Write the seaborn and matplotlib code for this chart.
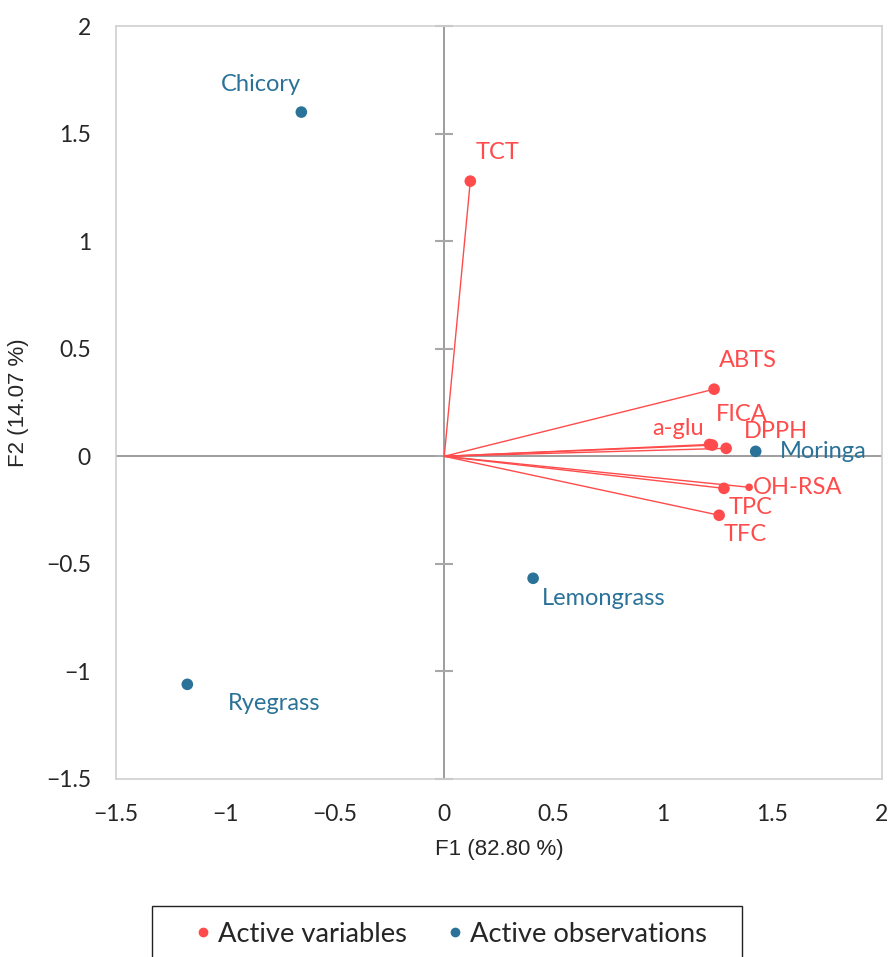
import pandas as pd
import matplotlib.pyplot as plt
import seaborn as sns
from matplotlib.patches import Rectangle

variables = ["TCT", "ABTS", "a-glu", "FICA", "DPPH", "OH-RSA", "TPC", "TFC"]
var_f1 = [0.119, 1.233, 1.212, 1.225, 1.288, 1.393, 1.278, 1.256]
var_f2 = [1.279, 0.312, 0.055, 0.052, 0.037, -0.144, -0.149, -0.274]

observaciones = ["Chicory", "Moringa", "Lemongrass", "Ryegrass"]
obs_f1 = [-0.653, 1.423, 0.406, -1.174]
obs_f2 = [1.600, 0.023, -0.567, -1.060]

x_ticks = [-1.5, -1, -0.5, 0, 0.5, 1, 1.5, 2]
y_ticks = [-1.5, -1, -0.5, 0, 0.5, 1, 1.5, 2]

rojo = "#FF4B4B"
azul = "#2B7299"

df = pd.DataFrame({
    "nombre": variables + observaciones,
    "F1": var_f1 + obs_f1,
    "F2": var_f2 + obs_f2,
    "tipo": ["Active variables"] * len(variables) + ["Active observations"] * len(observaciones),
})
# OH-RSA aparece con un marcador mas pequeño
df["tam"] = ["chico" if n == "OH-RSA" else "normal" for n in df["nombre"]]

sns.set_style("white")
plt.rcParams["font.family"] = ["Lato", "DejaVu Sans"]

fig = plt.figure(figsize=(8.88, 9.57), dpi=100)
ax = fig.add_axes([0.1306, 0.186, 0.8626, 0.7868])

# Ejes centrales
ax.axhline(0, color="#8c8c8c", lw=1.2, zorder=1)
ax.axvline(0, color="#8c8c8c", lw=1.2, zorder=1)
ax.scatter([0] * len(y_ticks), y_ticks, marker="_", s=150, color="#a8a8a8", lw=1.5, zorder=1, clip_on=False)

# Vectores de las variables
for x, y in zip(var_f1, var_f2):
    ax.plot([0, x], [0, y], color=rojo, lw=1, zorder=2)

sns.scatterplot(data=df, x="F1", y="F2", hue="tipo", palette={"Active variables": rojo, "Active observations": azul},
                size="tam", sizes={"normal": 70, "chico": 30}, edgecolor="none", ax=ax, legend=False, zorder=3)

# Etiquetas (desplazamiento en pixeles)
offsets = {
    "TCT": (27, 29), "ABTS": (34, 29), "a-glu": (-31, 16), "FICA": (29, 31), "DPPH": (50, 17),
    "OH-RSA": (49, 0), "TPC": (27, -19), "TFC": (26, -19),
    "Chicory": (-40, 28), "Moringa": (68, 0), "Lemongrass": (71, -20), "Ryegrass": (87, -19),
}
for _, fila in df.iterrows():
    dx, dy = offsets[fila["nombre"]]
    col = rojo if fila["tipo"] == "Active variables" else azul
    ax.annotate(fila["nombre"], (fila["F1"], fila["F2"]), xytext=(dx * 0.72, dy * 0.72), textcoords="offset points",
                ha="center", va="center", fontsize=17, color=col)

ax.set_xlim(-1.5, 2)
ax.set_ylim(-1.5, 2)
ax.set_xticks(x_ticks)
ax.set_yticks(y_ticks)
ax.set_xticklabels([f"{v:g}".replace("-", "\u2212") for v in x_ticks], fontsize=16.5)
ax.set_yticklabels([f"{v:g}".replace("-", "\u2212") for v in y_ticks], fontsize=16.5)
ax.tick_params(axis="x", length=0, pad=18)
ax.tick_params(axis="y", length=0, pad=18)
for s in ax.spines.values():
    s.set_color("#d0d0d0")
    s.set_linewidth(1.2)

ax.set_xlabel("F1 (82.80 %)", fontsize=16, family="Liberation Sans", labelpad=10)
ax.set_ylabel("F2 (14.07 %)", fontsize=16, family="Liberation Sans", labelpad=12)

# Leyenda: marco dibujado aparte (queda cortado por el borde inferior)
fig.patches.append(Rectangle((152 / 888, -0.05), 590 / 888, 51 / 957 + 0.05, transform=fig.transFigure,
                             fill=False, edgecolor="#222222", lw=1.0))
handles = [
    plt.Line2D([], [], marker="o", ls="", color=rojo, markersize=6, label="Active variables"),
    plt.Line2D([], [], marker="o", ls="", color=azul, markersize=6, label="Active observations"),
]
fig.legend(handles=handles, loc="upper left", bbox_to_anchor=(192 / 888, 1 - 922 / 957), ncol=2, fontsize=19.7,
           frameon=False, handlelength=0.8, handletextpad=0.15, columnspacing=1.35, borderpad=0, borderaxespad=0)

fig.savefig("out.png", dpi=100)
